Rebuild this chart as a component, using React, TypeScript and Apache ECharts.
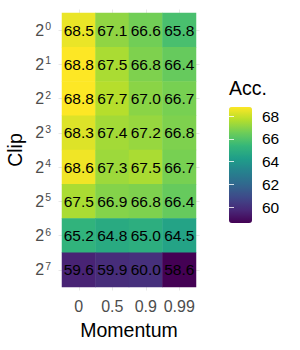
import React, { useEffect, useRef } from 'react';
import * as echarts from 'echarts';

const momentum = ['0', '0.5', '0.9', '0.99'];
const clipExp = ['0', '1', '2', '3', '4', '5', '6', '7'];
const accRows = [
  [68.5, 67.1, 66.6, 65.8],
  [68.8, 67.5, 66.8, 66.4],
  [68.8, 67.7, 67.0, 66.7],
  [68.3, 67.4, 67.2, 66.8],
  [68.6, 67.3, 67.5, 66.7],
  [67.5, 66.9, 66.8, 66.4],
  [65.2, 64.8, 65.0, 64.5],
  [59.6, 59.9, 60.0, 58.6],
];
const legendTicks = [60, 62, 64, 66, 68];
const accMin = 58.6;
const accMax = 68.8;
const viridis = ['#440154', '#482878', '#3E4A89', '#31688E', '#26828E', '#1F9E89', '#35B779', '#6DCD59', '#B4DE2C', '#FDE725'];

const FONT = '"Liberation Sans", Arial, Helvetica, sans-serif';

export default function App() {
  const ref = useRef<HTMLDivElement>(null);
  useEffect(() => {
    if (!ref.current) return;
    const chart = echarts.init(ref.current, null, { renderer: 'svg' });
    const data: number[][] = [];
    accRows.forEach((row, yi) => row.forEach((v, xi) => data.push([xi, yi, v])));
    const gridTick = { show: true, alignWithLabel: true, interval: 0, length: 3.5, lineStyle: { color: '#e8e8e8', width: 1 } };
    chart.setOption({
      animation: false,
      textStyle: { fontFamily: FONT },
      grid: [
        { left: 62, top: 13, width: 134, height: 274 },
        { left: 229, top: 107, width: 23, height: 116 },
      ],
      xAxis: [
        {
          type: 'category', data: momentum, gridIndex: 0, position: 'bottom',
          axisLine: { show: false }, axisTick: gridTick, splitLine: { show: false },
          axisLabel: { color: '#4d4d4d', fontSize: 16, margin: 11, interval: 0, fontFamily: FONT },
          name: 'Momentum', nameLocation: 'middle', nameGap: 33,
          nameTextStyle: { color: '#000', fontSize: 19.5, fontFamily: FONT },
        },
        {
          type: 'category', data: momentum, gridIndex: 0, position: 'top',
          axisLine: { show: false }, axisTick: gridTick, axisLabel: { show: false }, splitLine: { show: false },
        },
        { type: 'value', gridIndex: 1, show: false, min: 0, max: 1 },
      ],
      yAxis: [
        {
          type: 'category', data: clipExp, inverse: true, gridIndex: 0, position: 'left',
          axisLine: { show: false }, axisTick: gridTick, splitLine: { show: false },
          axisLabel: {
            margin: 11, interval: 0,
            formatter: (v: string) => `{b|2}{s|${v}}`,
            rich: {
              b: { fontSize: 16, color: '#4d4d4d', fontFamily: FONT },
              s: { fontSize: 10.5, color: '#4d4d4d', fontFamily: FONT, verticalAlign: 'top', padding: [0, 0, 8, 1] },
            },
          },
          name: 'Clip', nameLocation: 'middle', nameGap: 37, nameRotate: 90,
          nameTextStyle: { color: '#000', fontSize: 19.5, fontFamily: FONT },
        },
        {
          type: 'category', data: clipExp, inverse: true, gridIndex: 0, position: 'right',
          axisLine: { show: false }, axisTick: gridTick, axisLabel: { show: false }, splitLine: { show: false },
        },
        {
          type: 'value', gridIndex: 1, min: accMin, max: accMax, position: 'right', z: 10,
          axisLine: { show: false }, splitLine: { show: false },
          axisTick: { show: true, inside: true, length: 5, customValues: legendTicks, lineStyle: { color: '#ffffff', width: 1, opacity: 0.8 } },
          axisLabel: { show: true, customValues: legendTicks, color: '#000', fontSize: 15.5, margin: 10, fontFamily: FONT },
        },
        {
          type: 'value', gridIndex: 1, min: accMin, max: accMax, position: 'left', z: 10,
          axisLine: { show: false }, splitLine: { show: false },
          axisTick: { show: true, inside: true, length: 5, customValues: legendTicks, lineStyle: { color: '#ffffff', width: 1, opacity: 0.8 } },
          axisLabel: { show: false },
        },
      ],
      visualMap: {
        type: 'continuous', min: accMin, max: accMax, seriesIndex: 0, calculable: false,
        inRange: { color: viridis }, left: 229, top: 107, itemWidth: 23, itemHeight: 116, padding: 0,
        orient: 'vertical', hoverLink: false,
      },
      graphic: [
        { type: 'text', left: 229, top: 78, style: { text: 'Acc.', fontSize: 19.5, fill: '#000', fontFamily: FONT } },
      ],
      series: [
        {
          type: 'heatmap', xAxisIndex: 0, yAxisIndex: 0, data,
          label: { show: true, color: '#000', fontSize: 15.5, fontFamily: FONT, formatter: (p: any) => p.value[2].toFixed(1) },
          emphasis: { disabled: true },
        },
      ],
    });
    return () => chart.dispose();
  }, []);
  return <div ref={ref} style={{ position: 'fixed', left: 0, top: 0, width: 300, height: 350, background: '#fff' }} />;
}
